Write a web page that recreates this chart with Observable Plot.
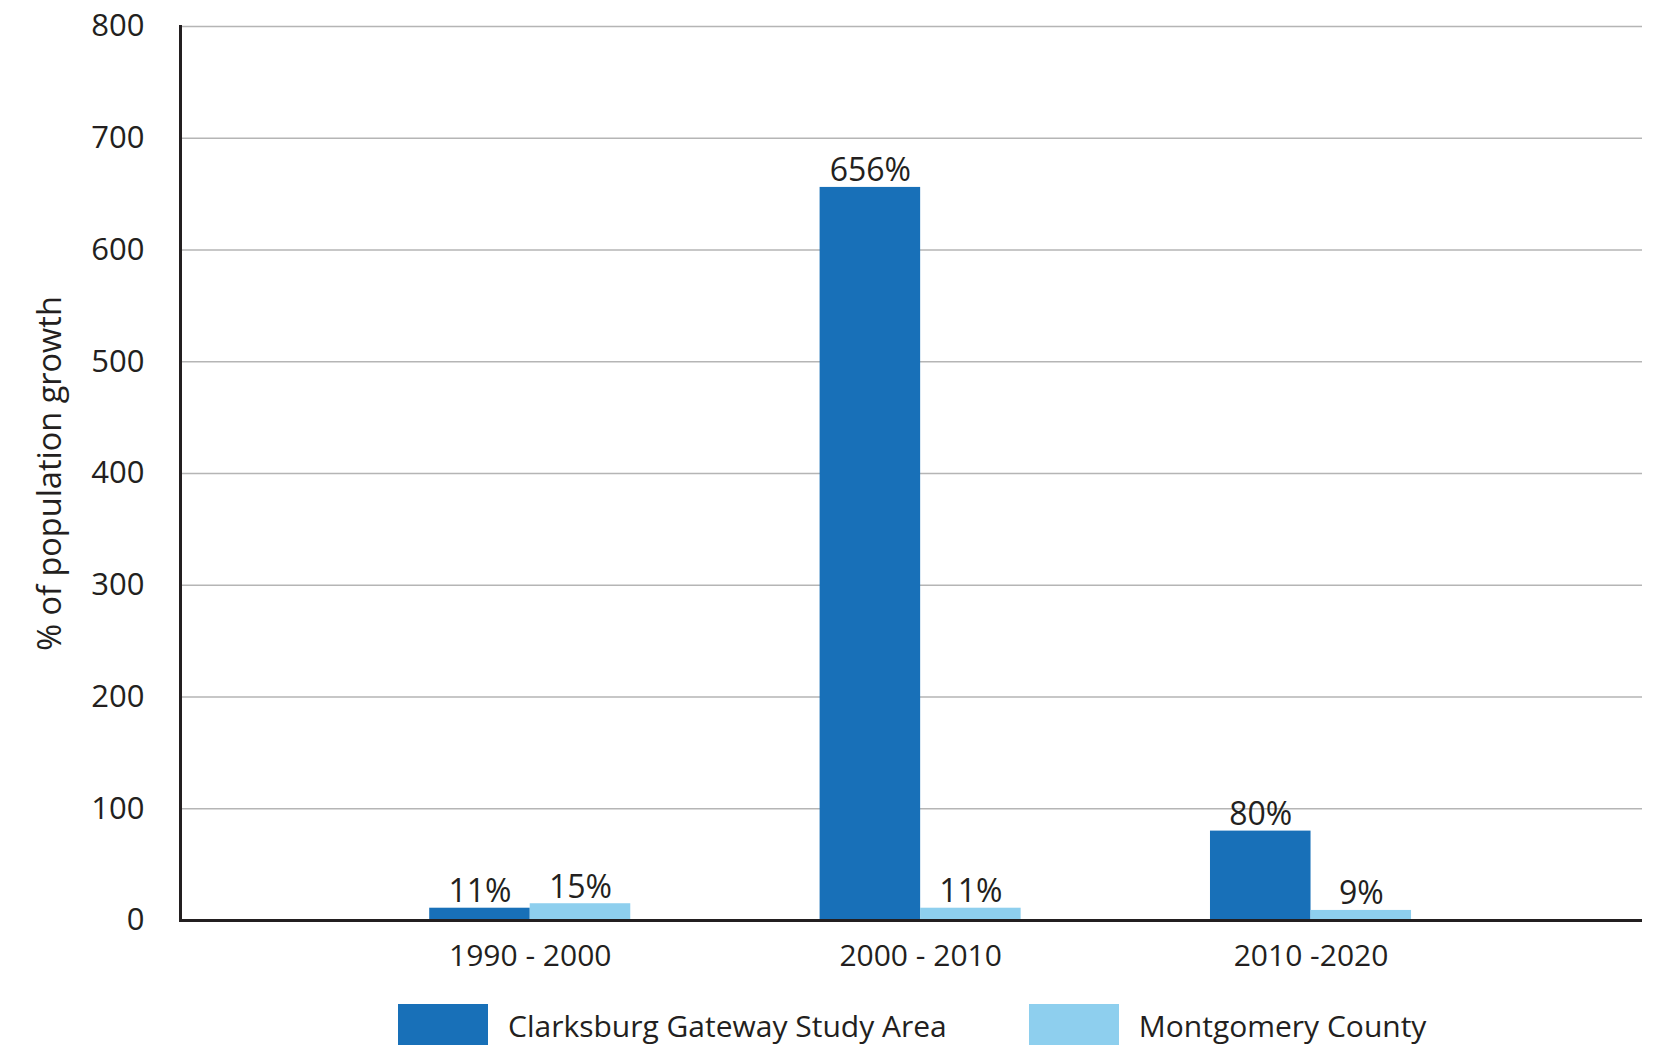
<!DOCTYPE html>
<html>
<head>
<meta charset="utf-8">
<script src="https://cdn.jsdelivr.net/npm/d3@7"></script>
<script src="https://cdn.jsdelivr.net/npm/@observablehq/plot@0.6"></script>
<style>
  html, body { margin: 0; padding: 0; background: #fff; overflow: hidden; }
  #chart svg { display: block; }
  .legend { display: flex; align-items: flex-start; margin-top: 14px; margin-left: 398px;
            font-family: "Open Sans", sans-serif; font-size: 30px; color: #231f20; }
  .legend .sw { width: 90px; height: 41px; margin-right: 20px; }
  .legend .item { display: flex; align-items: flex-start; margin-right: 82px; }
  .legend .lab { line-height: 30px; margin-top: 7px; white-space: nowrap; }
</style>
</head>
<body>
<div id="chart"></div>
<script>
const periods = ["1990 - 2000", "2000 - 2010", "2010 -2020"];
const seriesNames = ["Clarksburg Gateway Study Area", "Montgomery County"];
const clarksburg = [11, 656, 80];
const montgomery = [15, 11, 9];
const yTicks = [0, 100, 200, 300, 400, 500, 600, 700, 800];
const colors = ["#1870b8", "#8ecfee"];

const rows = periods.flatMap((p, i) => [
  {period: p, series: seriesNames[0], value: clarksburg[i]},
  {period: p, series: seriesNames[1], value: montgomery[i]}
]);
const s0 = rows.filter(d => d.series === seriesNames[0]);
const s1 = rows.filter(d => d.series === seriesNames[1]);

const HALF = 100.5;
const ink = "#231f20";

const chart = Plot.plot({
  width: 1661,
  height: 990,
  marginTop: 26,
  marginLeft: 180,
  marginRight: 19,
  marginBottom: 70,
  style: {fontFamily: "'Open Sans', sans-serif", color: ink, background: "#fff"},
  x: {domain: periods, paddingInner: 0.485, paddingOuter: 0.615, align: 0.519, round: false},
  y: {domain: [0, 800]},
  color: {domain: seriesNames, range: colors},
  marks: [
    Plot.ruleY(yTicks, {stroke: "#b5b5b5", strokeWidth: 1.5}),
    Plot.barY(s0, {x: "period", y: "value", fill: "series", insetRight: HALF}),
    Plot.barY(s1, {x: "period", y: "value", fill: "series", insetLeft: HALF}),
    Plot.text(s0, {x: "period", y: "value", text: d => d.value + "%", dx: -HALF / 2, dy: -6,
      lineAnchor: "bottom", fontSize: 32, fill: ink}),
    Plot.text(s1, {x: "period", y: "value", text: d => d.value + "%", dx: HALF / 2, dy: -6,
      lineAnchor: "bottom", fontSize: 32, fill: ink}),
    Plot.ruleY([0], {stroke: ink, strokeWidth: 3}),
    Plot.frame({anchor: "left", stroke: ink, strokeWidth: 3}),
    Plot.axisY(yTicks, {tickSize: 0, tickPadding: 36, fontSize: 31, fill: ink, label: null}),
    Plot.axisY([], {tickSize: 0, fontSize: 32.5, fill: ink,
      label: "% of population growth", labelAnchor: "center", labelOffset: 143, labelArrow: "none"}),
    Plot.axisX({tickSize: 0, tickPadding: 24, fontSize: 30, fill: ink, label: null})
  ]
});
document.getElementById("chart").appendChild(chart);

const legend = document.createElement("div");
legend.className = "legend";
seriesNames.forEach((name, i) => {
  const item = document.createElement("div");
  item.className = "item";
  const sw = document.createElement("div");
  sw.className = "sw";
  sw.style.background = colors[i];
  const label = document.createElement("span");
  label.className = "lab";
  label.textContent = name;
  item.appendChild(sw);
  item.appendChild(label);
  legend.appendChild(item);
});
document.body.appendChild(legend);
</script>
</body>
</html>
